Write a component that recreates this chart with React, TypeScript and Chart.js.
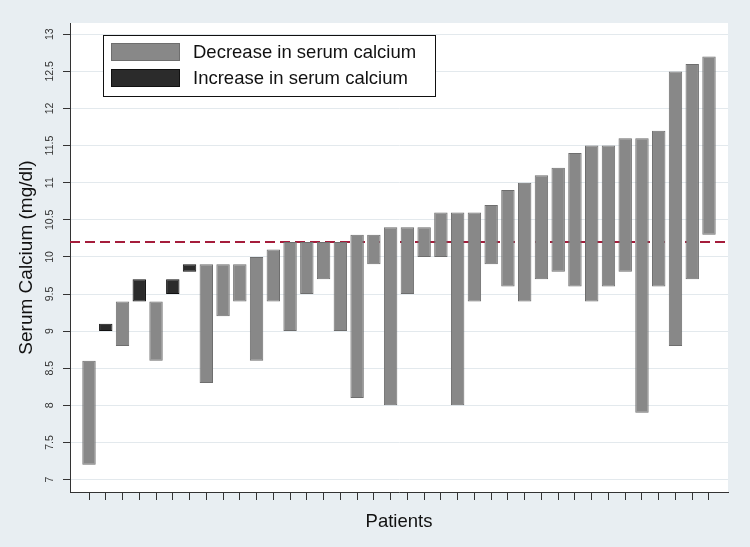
import React, { useEffect, useRef } from 'react';
import { Chart, registerables } from 'chart.js';

Chart.register(...registerables);

// ---- data ----
const patients = [1, 2, 3, 4, 5, 6, 7, 8, 9, 10, 11, 12, 13, 14, 15, 16, 17, 18, 19, 20, 21, 22, 23, 24, 25, 26, 27, 28, 29, 30, 31, 32, 33, 34, 35, 36, 37, 38];
const lowValues = [7.2, 9.0, 8.8, 9.4, 8.6, 9.5, 9.8, 8.3, 9.2, 9.4, 8.6, 9.4, 9.0, 9.5, 9.7, 9.0, 8.1, 9.9, 8.0, 9.5, 10.0, 10.0, 8.0, 9.4, 9.9, 9.6, 9.4, 9.7, 9.8, 9.6, 9.4, 9.6, 9.8, 7.9, 9.6, 8.8, 9.7, 10.3];
const highValues = [8.6, 9.1, 9.4, 9.7, 9.4, 9.7, 9.9, 9.9, 9.9, 9.9, 10.0, 10.1, 10.2, 10.2, 10.2, 10.2, 10.3, 10.3, 10.4, 10.4, 10.4, 10.6, 10.6, 10.6, 10.7, 10.9, 11.0, 11.1, 11.2, 11.4, 11.5, 11.5, 11.6, 11.6, 11.7, 12.5, 12.6, 12.7];
// 'd' = decrease, 'i' = increase
const direction = ['d', 'i', 'd', 'i', 'd', 'i', 'i', 'd', 'd', 'd', 'd', 'd', 'd', 'd', 'd', 'd', 'd', 'd', 'd', 'd', 'd', 'd', 'd', 'd', 'd', 'd', 'd', 'd', 'd', 'd', 'd', 'd', 'd', 'd', 'd', 'd', 'd', 'd'];
const yTicks = [7, 7.5, 8, 8.5, 9, 9.5, 10, 10.5, 11, 11.5, 12, 12.5, 13];
const referenceValue = 10.2;
const seriesLabels = ['Decrease in serum calcium', 'Increase in serum calcium'];
const yTitle = 'Serum Calcium (mg/dl)';
const xTitle = 'Patients';

const GRAY = '#888888';
const GRAY_BORDER = '#6e6e6e';
const BLACK = '#2b2b2b';
const BLACK_BORDER = '#111111';
const FONT = '"Liberation Sans", Arial, sans-serif';

function pointsFor(dir: string) {
  return patients
    .map((p, i) => ({ x: p, y: [lowValues[i], highValues[i]], d: direction[i] }))
    .filter((pt) => pt.d === dir)
    .map((pt) => ({ x: pt.x, y: pt.y }));
}

const backgroundPlugin = {
  id: 'bg',
  beforeDraw(chart: any) {
    const { ctx, chartArea } = chart;
    ctx.save();
    ctx.fillStyle = '#e8eef2';
    ctx.fillRect(0, 0, chart.width, chart.height);
    ctx.fillStyle = '#ffffff';
    ctx.fillRect(chartArea.left, chartArea.top, chartArea.right - chartArea.left, chartArea.bottom - chartArea.top);
    ctx.restore();
  },
};

const refLinePlugin = {
  id: 'refline',
  beforeDatasetsDraw(chart: any) {
    const { ctx, chartArea, scales } = chart;
    const y = scales.y.getPixelForValue(referenceValue);
    ctx.save();
    ctx.strokeStyle = '#a51d3b';
    ctx.lineWidth = 2;
    ctx.setLineDash([10, 5]);
    ctx.beginPath();
    ctx.moveTo(chartArea.left, y);
    ctx.lineTo(chartArea.right, y);
    ctx.stroke();
    ctx.restore();
  },
};

const legendPlugin = {
  id: 'customLegend',
  afterDatasetsDraw(chart: any) {
    const { ctx, chartArea } = chart;
    const left = chartArea.left + 33;
    const top = chartArea.top + 12;
    const w = 332;
    const h = 61;
    ctx.save();
    ctx.fillStyle = '#ffffff';
    ctx.fillRect(left, top, w, h);
    ctx.strokeStyle = '#111111';
    ctx.lineWidth = 1;
    ctx.strokeRect(left + 0.5, top + 0.5, w, h);
    const items = [
      { label: seriesLabels[0], fill: GRAY, border: GRAY_BORDER, y: top + 8 },
      { label: seriesLabels[1], fill: BLACK, border: BLACK_BORDER, y: top + 34 },
    ];
    ctx.font = `18.5px ${FONT}`;
    ctx.textBaseline = 'middle';
    ctx.textAlign = 'left';
    items.forEach((it) => {
      ctx.fillStyle = it.fill;
      ctx.fillRect(left + 8, it.y, 69, 18);
      ctx.strokeStyle = it.border;
      ctx.strokeRect(left + 8.5, it.y + 0.5, 68, 17);
      ctx.fillStyle = '#111111';
      ctx.fillText(it.label, left + 90, it.y + 9.5);
    });
    ctx.restore();
  },
};

export default function App() {
  const canvasRef = useRef<HTMLCanvasElement | null>(null);

  useEffect(() => {
    document.body.style.margin = '0';
    const canvas = canvasRef.current;
    if (!canvas) return;
    const chart = new Chart(canvas, {
      type: 'bar',
      data: {
        datasets: [
          {
            label: seriesLabels[0],
            data: pointsFor('d') as any,
            backgroundColor: GRAY,
            borderColor: GRAY_BORDER,
            borderWidth: 1,
            borderSkipped: false,
            grouped: false,
            barPercentage: 0.8,
            categoryPercentage: 1,
          },
          {
            label: seriesLabels[1],
            data: pointsFor('i') as any,
            backgroundColor: BLACK,
            borderColor: BLACK_BORDER,
            borderWidth: 1,
            borderSkipped: false,
            grouped: false,
            barPercentage: 0.8,
            categoryPercentage: 1,
          },
        ],
      },
      options: {
        responsive: false,
        animation: false,
        devicePixelRatio: 1,
        layout: { padding: { top: 23, right: 22, left: 0, bottom: 0 } },
        plugins: {
          legend: { display: false },
          tooltip: { enabled: false },
        },
        scales: {
          x: {
            type: 'linear',
            offset: false,
            min: -0.134,
            max: 39.134,
            afterBuildTicks: (scale: any) => {
              scale.ticks = patients.map((p) => ({ value: p }));
            },
            afterFit: (scale: any) => {
              scale.height = 55;
            },
            ticks: { display: false },
            grid: {
              offset: false,
              drawOnChartArea: false,
              drawTicks: true,
              tickLength: 8,
              tickColor: '#333333',
              tickWidth: 1,
            },
            border: { display: true, color: '#333333', width: 1 },
            title: {
              display: true,
              text: xTitle,
              color: '#111111',
              font: { family: FONT, size: 18.5 },
              padding: { top: 0, bottom: 14 },
            },
          },
          y: {
            type: 'linear',
            beginAtZero: false,
            min: 6.832,
            max: 13.152,
            afterBuildTicks: (scale: any) => {
              scale.ticks = yTicks.map((v) => ({ value: v }));
            },
            afterFit: (scale: any) => {
              scale.width = 70;
            },
            ticks: {
              minRotation: 90,
              maxRotation: 90,
              crossAlign: 'center',
              padding: 3,
              color: '#333333',
              font: { family: FONT, size: 10.5 },
              callback: (v: any) => String(v),
            },
            grid: {
              color: '#e3e9ed',
              lineWidth: 1,
              drawTicks: true,
              tickLength: 7,
              tickColor: '#333333',
            },
            border: { display: true, color: '#333333', width: 1 },
            title: {
              display: true,
              text: yTitle,
              color: '#111111',
              font: { family: FONT, size: 19 },
              padding: { top: 15, bottom: 0 },
            },
          },
        },
      } as any,
      plugins: [backgroundPlugin, refLinePlugin, legendPlugin],
    });
    return () => chart.destroy();
  }, []);

  return (
    <div style={{ width: 750, height: 547 }}>
      <canvas ref={canvasRef} width={750} height={547} style={{ display: 'block' }} />
    </div>
  );
}
